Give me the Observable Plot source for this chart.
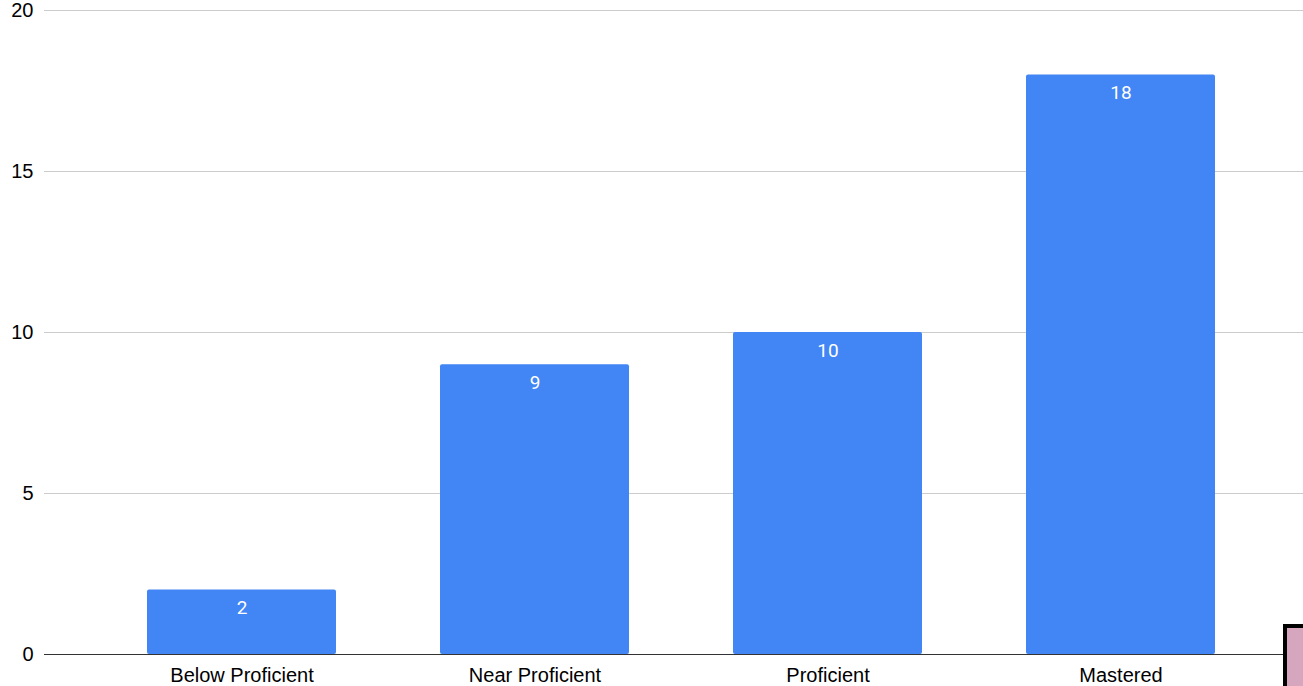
<!DOCTYPE html>
<html>
<head>
<meta charset="utf-8">
<script src="https://cdn.jsdelivr.net/npm/d3@7"></script>
<script src="https://cdn.jsdelivr.net/npm/@observablehq/plot@0.6"></script>
<style>
  html, body { margin: 0; padding: 0; background: #fff; overflow: hidden; }
  #chart { position: relative; width: 1303px; height: 686px; }
  #chart svg { display: block; }
  .swatch {
    position: absolute; left: 1283px; top: 624px;
    width: 30px; height: 70px;
    background: #d5a6bd; border: 4px solid #000; box-sizing: border-box;
  }
</style>
</head>
<body>
<div id="chart"></div>
<script>
// Performance levels and the number of students in each
const levels = ["Below Proficient", "Near Proficient", "Proficient", "Mastered"];
const counts = [2, 9, 10, 18];
const yTicks = [0, 5, 10, 15, 20];

const data = levels.map((level, i) => ({level, count: counts[i]}));

const chart = Plot.plot({
  width: 1303,
  height: 686,
  marginLeft: 44,
  marginRight: 0,
  marginTop: 10,
  marginBottom: 32,
  style: {fontFamily: "Liberation Sans, Arial, sans-serif", fontSize: "20px", color: "#000", background: "#fff"},
  x: {domain: levels, range: [42, 1319], padding: 0.356, label: null, tickSize: 0, tickPadding: 13},
  y: {domain: [0, 20], ticks: yTicks, label: null, tickSize: 0, tickPadding: 11},
  marks: [
    Plot.ruleY(yTicks.filter(d => d > 0), {stroke: "#cccccc", strokeWidth: 1}),
    Plot.barY(data, {x: "level", y: "count", fill: "#4285f4", rx: 2}),
    Plot.ruleY([0], {stroke: "#333333", strokeWidth: 1.2}),
    Plot.text(data, {
      x: "level", y: "count", text: d => String(d.count),
      dy: 18, fill: "#ffffff", fontSize: 19,
      fontFamily: "Roboto, sans-serif", fontWeight: 400
    })
  ]
});

const root = document.getElementById("chart");
root.appendChild(chart);
const sw = document.createElement("div");
sw.className = "swatch";
root.appendChild(sw);
</script>
</body>
</html>
